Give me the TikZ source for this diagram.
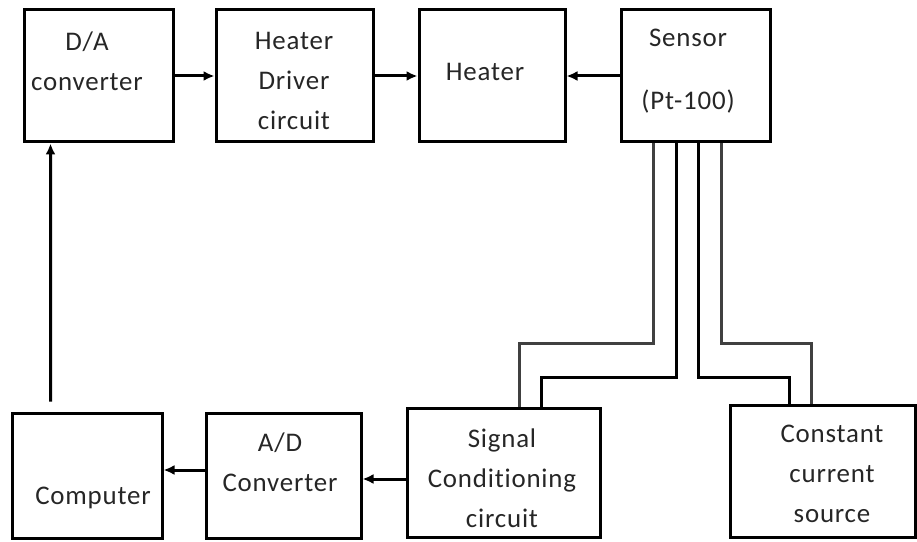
\documentclass[tikz,border=0pt]{standalone}
\usepackage{fontspec}
\setmainfont{Carlito}[Ligatures=NoCommon, LetterSpace=3]
\usetikzlibrary{arrows.meta}
\tikzset{
  blk/.style={draw, line width=3bp, inner sep=0pt},
  txt/.style={inner sep=0pt, align=center, text=black!85, font=\fontsize{27}{40}\selectfont},
  arr/.style={line width=3bp, -{Latex[length=11bp,width=10bp]}},
  wire/.style={line width=2.6bp, black!75},
  wireb/.style={line width=3.2bp}
}
\begin{document}
\begin{tikzpicture}[x=1bp, y=-1bp]
  \useasboundingbox (0,0) rectangle (917,542);
  % upper row
  \node[blk, minimum width=148bp, minimum height=132bp] (da) at (99,76) {};
  \node[blk, minimum width=157bp, minimum height=132bp] (hd) at (294.5,76) {};
  \node[blk, minimum width=146bp, minimum height=132bp] (ht) at (492,76) {};
  \node[blk, minimum width=149bp, minimum height=132bp] (sn) at (695.5,76) {};
  % lower row
  \node[blk, minimum width=149bp, minimum height=125bp] (cp) at (87.5,475.5) {};
  \node[blk, minimum width=155bp, minimum height=125bp] (ad) at (283.5,475.5) {};
  \node[blk, minimum width=193bp, minimum height=129bp] (sc) at (503.5,472.5) {};
  \node[blk, minimum width=185bp, minimum height=132bp] (cc) at (822.5,471) {};
  % texts
  \node[txt] (da-t) at (87,61) {D/A\\converter};
  \node[txt] (hd-t) at (294,81) {Heater\\Driver\\circuit};
  \node[txt] (ht-t) at (485,72) {Heater};
  \node[txt] (sn-t) at (688,71) {Sensor\\[23bp](Pt-100)};
  \node[txt] (cp-t) at (93,498) {Computer};
  \node[txt] (ad-t) at (280,462) {A/D\\Converter};
  \node[txt] (sc-t) at (502,478) {Signal\\Conditioning\\circuit};
  \node[txt] (cc-t) at (832,474) {Constant\\current\\source};
  % signal path
  \draw[arr] (da.east) -- (hd.west);
  \draw[arr] (hd.east) -- (ht.west);
  \draw[arr] (sn.west) -- (ht.east);
  \draw[arr, shorten <=10bp] ([xshift=39bp]cp.north west) -- ([xshift=27bp]da.south west);
  \draw[arr] ([yshift=-6.5bp]sc.west) -- ([yshift=-6.5bp]sc.west -| ad.east);
  \draw[arr] ([yshift=5.5bp]ad.west) -- ([yshift=5.5bp]ad.west -| cp.east);
  % sensor leads
  \draw[wire] ([xshift=34bp]sn.south west) -- ++(0,200) -| ([xshift=114bp]sc.north west);
  \draw[wireb] ([xshift=57bp]sn.south west) -- ++(0,234) -| ([xshift=136bp]sc.north west);
  \draw[wireb] ([xshift=79bp]sn.south west) -- ++(0,234) -| ([xshift=61bp]cc.north west);
  \draw[wire] ([xshift=102bp]sn.south west) -- ++(0,200) -| ([xshift=83bp]cc.north west);
\end{tikzpicture}
\end{document}
